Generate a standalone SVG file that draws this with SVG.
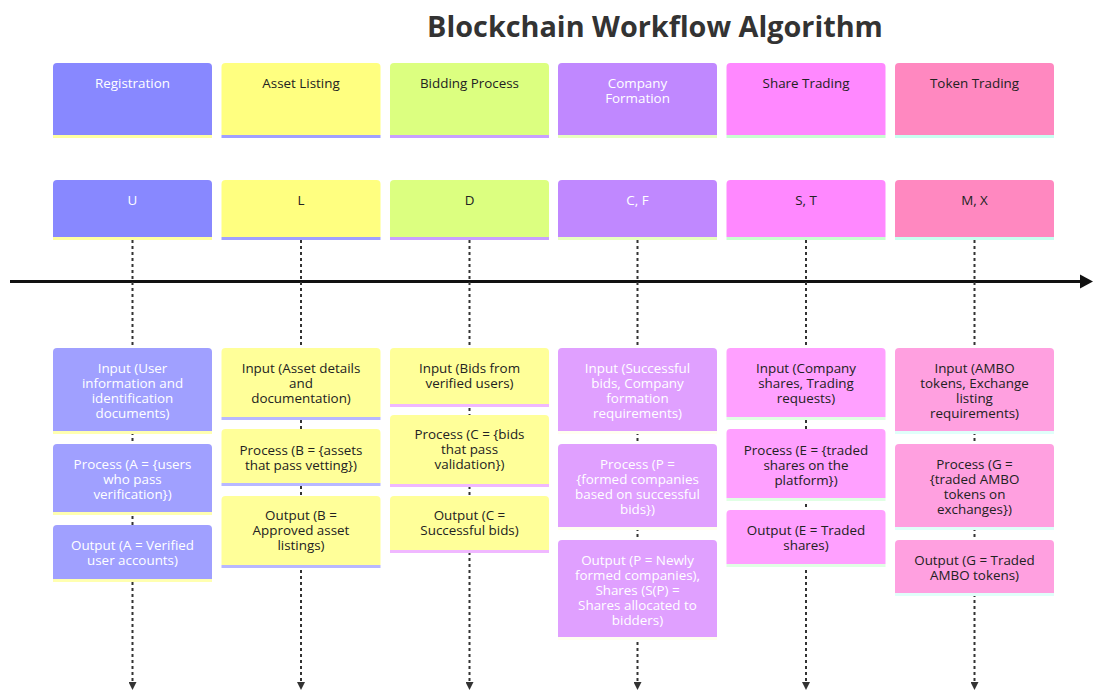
<svg xmlns="http://www.w3.org/2000/svg" width="1093" height="690" viewBox="0 0 1093 690">
  <defs>
    <style>
      text { font-family: "Open Sans", "Noto Sans", "Liberation Sans", sans-serif; font-size: 13.4px; text-anchor: middle; }
      .title { font-size: 28.8px; font-weight: 700; fill: #333333; }
      .light { fill: #ffffff; }
      .dark { fill: #222222; }
      .flow { stroke: #333333; stroke-width: 2; stroke-dasharray: 3 3; fill: none; }
      .axis { stroke: #111111; stroke-width: 3; fill: none; }
    </style>
    <marker id="down" markerUnits="userSpaceOnUse" markerWidth="8" markerHeight="8" refX="8" refY="4" orient="auto" viewBox="0 0 8 8">
      <path d="M0,0 L8,4 L0,8 Z" fill="#333333"/>
    </marker>
  </defs>

  <rect width="1093" height="690" fill="#ffffff"/>

  <text class="title" x="655" y="37">Blockchain Workflow Algorithm</text>

  <!-- connectors: timeline and column flows -->
  <g id="connectors">
    <line class="axis" x1="10" y1="281.5" x2="1081" y2="281.5"/>
    <path d="M1080,274.5 L1093,281.5 L1080,288.5 Z" fill="#111111"/>
    <line class="flow" x1="132.5" y1="240" x2="132.5" y2="690" marker-end="url(#down)"/>
    <line class="flow" x1="301" y1="240" x2="301" y2="690" marker-end="url(#down)"/>
    <line class="flow" x1="469.5" y1="240" x2="469.5" y2="690" marker-end="url(#down)"/>
    <line class="flow" x1="637.5" y1="240" x2="637.5" y2="690" marker-end="url(#down)"/>
    <line class="flow" x1="806" y1="240" x2="806" y2="690" marker-end="url(#down)"/>
    <line class="flow" x1="974.5" y1="240" x2="974.5" y2="690" marker-end="url(#down)"/>
  </g>

  <!-- Registration column -->
  <g id="registration-header">
    <path d="M53,135 V67 Q53,63 57,63 H208 Q212,63 212,67 V135 Z" fill="#8888ff"/>
    <rect x="53" y="135" width="159" height="3" fill="#ffffa0"/>
    <text class="light" x="132.5" y="88">Registration</text>
  </g>
  <g id="registration-symbol">
    <path d="M53,237 V184 Q53,180 57,180 H208 Q212,180 212,184 V237 Z" fill="#8888ff"/>
    <rect x="53" y="237" width="159" height="3" fill="#ffffa0"/>
    <text class="light" x="132.5" y="205">U</text>
  </g>
  <g id="registration-input">
    <path d="M53,431 V352 Q53,348 57,348 H208 Q212,348 212,352 V431 Z" fill="#a0a0ff"/>
    <rect x="53" y="431" width="159" height="3" fill="#ffffb0"/>
    <text class="light" y="372.5"><tspan x="132.5">Input (User</tspan><tspan x="132.5" dy="15">information and</tspan><tspan x="132.5" dy="15">identification</tspan><tspan x="132.5" dy="15">documents)</tspan></text>
  </g>
  <g id="registration-process">
    <path d="M53,512 V448 Q53,444 57,444 H208 Q212,444 212,448 V512 Z" fill="#a0a0ff"/>
    <rect x="53" y="512" width="159" height="3" fill="#ffffb0"/>
    <text class="light" y="468.5"><tspan x="132.5">Process (A = {users</tspan><tspan x="132.5" dy="15">who pass</tspan><tspan x="132.5" dy="15">verification})</tspan></text>
  </g>
  <g id="registration-output">
    <path d="M53,579 V529 Q53,525 57,525 H208 Q212,525 212,529 V579 Z" fill="#a0a0ff"/>
    <rect x="53" y="579" width="159" height="3" fill="#ffffb0"/>
    <text class="light" y="549.5"><tspan x="132.5">Output (A = Verified</tspan><tspan x="132.5" dy="15">user accounts)</tspan></text>
  </g>

  <!-- Asset Listing column -->
  <g id="asset-header">
    <path d="M221.5,135 V67 Q221.5,63 225.5,63 H376.5 Q380.5,63 380.5,67 V135 Z" fill="#ffff80"/>
    <rect x="221.5" y="135" width="159" height="3" fill="#a0a0ff"/>
    <text class="dark" x="301" y="88">Asset Listing</text>
  </g>
  <g id="asset-symbol">
    <path d="M221.5,237 V184 Q221.5,180 225.5,180 H376.5 Q380.5,180 380.5,184 V237 Z" fill="#ffff80"/>
    <rect x="221.5" y="237" width="159" height="3" fill="#a0a0ff"/>
    <text class="dark" x="301" y="205">L</text>
  </g>
  <g id="asset-input">
    <path d="M221.5,417 V352 Q221.5,348 225.5,348 H376.5 Q380.5,348 380.5,352 V417 Z" fill="#ffff99"/>
    <rect x="221.5" y="417" width="159" height="3" fill="#b8b8ff"/>
    <text class="dark" y="372.5"><tspan x="301">Input (Asset details</tspan><tspan x="301" dy="15">and</tspan><tspan x="301" dy="15">documentation)</tspan></text>
  </g>
  <g id="asset-process">
    <path d="M221.5,483 V433 Q221.5,429 225.5,429 H376.5 Q380.5,429 380.5,433 V483 Z" fill="#ffff99"/>
    <rect x="221.5" y="483" width="159" height="3" fill="#b8b8ff"/>
    <text class="dark" y="454.5"><tspan x="301">Process (B = {assets</tspan><tspan x="301" dy="15">that pass vetting})</tspan></text>
  </g>
  <g id="asset-output">
    <path d="M221.5,565 V500 Q221.5,496 225.5,496 H376.5 Q380.5,496 380.5,500 V565 Z" fill="#ffff99"/>
    <rect x="221.5" y="565" width="159" height="3" fill="#b8b8ff"/>
    <text class="dark" y="519.5"><tspan x="301">Output (B =</tspan><tspan x="301" dy="15">Approved asset</tspan><tspan x="301" dy="15">listings)</tspan></text>
  </g>

  <!-- Bidding Process column -->
  <g id="bidding-header">
    <path d="M390,135 V67 Q390,63 394,63 H545 Q549,63 549,67 V135 Z" fill="#dcff80"/>
    <rect x="390" y="135" width="159" height="3" fill="#c8a0ff"/>
    <text class="dark" x="469.5" y="88">Bidding Process</text>
  </g>
  <g id="bidding-symbol">
    <path d="M390,237 V184 Q390,180 394,180 H545 Q549,180 549,184 V237 Z" fill="#dcff80"/>
    <rect x="390" y="237" width="159" height="3" fill="#c8a0ff"/>
    <text class="dark" x="469.5" y="205">D</text>
  </g>
  <g id="bidding-input">
    <path d="M390,404 V352 Q390,348 394,348 H545 Q549,348 549,352 V404 Z" fill="#ffff99"/>
    <rect x="390" y="404" width="159" height="3" fill="#f0b8ff"/>
    <text class="dark" y="372.5"><tspan x="469.5">Input (Bids from</tspan><tspan x="469.5" dy="15">verified users)</tspan></text>
  </g>
  <g id="bidding-process">
    <path d="M390,484 V419 Q390,415 394,415 H545 Q549,415 549,419 V484 Z" fill="#ffff99"/>
    <rect x="390" y="484" width="159" height="3" fill="#f0b8ff"/>
    <text class="dark" y="438.5"><tspan x="469.5">Process (C = {bids</tspan><tspan x="469.5" dy="15">that pass</tspan><tspan x="469.5" dy="15">validation})</tspan></text>
  </g>
  <g id="bidding-output">
    <path d="M390,550 V500 Q390,496 394,496 H545 Q549,496 549,500 V550 Z" fill="#ffff99"/>
    <rect x="390" y="550" width="159" height="3" fill="#f0b8ff"/>
    <text class="dark" y="519.5"><tspan x="469.5">Output (C =</tspan><tspan x="469.5" dy="15">Successful bids)</tspan></text>
  </g>

  <!-- Company Formation column -->
  <g id="company-header">
    <path d="M558,135 V67 Q558,63 562,63 H713 Q717,63 717,67 V135 Z" fill="#c088ff"/>
    <rect x="558" y="135" width="159" height="3" fill="#e8ffc0"/>
    <text class="light" y="88"><tspan x="637.5">Company</tspan><tspan x="637.5" dy="15">Formation</tspan></text>
  </g>
  <g id="company-symbol">
    <path d="M558,237 V184 Q558,180 562,180 H713 Q717,180 717,184 V237 Z" fill="#c088ff"/>
    <rect x="558" y="237" width="159" height="3" fill="#e8ffc0"/>
    <text class="light" x="637.5" y="205">C, F</text>
  </g>
  <g id="company-input">
    <path d="M558,431 V352 Q558,348 562,348 H713 Q717,348 717,352 V431 Z" fill="#e0a0ff"/>
    <rect x="558" y="431" width="159" height="3" fill="#fffff0"/>
    <text class="light" y="372.5"><tspan x="637.5">Input (Successful</tspan><tspan x="637.5" dy="15">bids, Company</tspan><tspan x="637.5" dy="15">formation</tspan><tspan x="637.5" dy="15">requirements)</tspan></text>
  </g>
  <g id="company-process">
    <path d="M558,527 V448 Q558,444 562,444 H713 Q717,444 717,448 V527 Z" fill="#e0a0ff"/>
    <rect x="558" y="527" width="159" height="3" fill="#fffff0"/>
    <text class="light" y="468.5"><tspan x="637.5">Process (P =</tspan><tspan x="637.5" dy="15">{formed companies</tspan><tspan x="637.5" dy="15">based on successful</tspan><tspan x="637.5" dy="15">bids})</tspan></text>
  </g>
  <g id="company-output">
    <path d="M558,637 V544 Q558,540 562,540 H713 Q717,540 717,544 V637 Z" fill="#e0a0ff"/>
    <rect x="558" y="637" width="159" height="3" fill="#fffff0"/>
    <text class="light" y="564.5"><tspan x="637.5">Output (P = Newly</tspan><tspan x="637.5" dy="15">formed companies),</tspan><tspan x="637.5" dy="15">Shares (S(P) =</tspan><tspan x="637.5" dy="15">Shares allocated to</tspan><tspan x="637.5" dy="15">bidders)</tspan></text>
  </g>

  <!-- Share Trading column -->
  <g id="share-header">
    <path d="M726.5,135 V67 Q726.5,63 730.5,63 H881.5 Q885.5,63 885.5,67 V135 Z" fill="#ff88ff"/>
    <rect x="726.5" y="135" width="159" height="3" fill="#c8ffd0"/>
    <text class="dark" x="806" y="88">Share Trading</text>
  </g>
  <g id="share-symbol">
    <path d="M726.5,237 V184 Q726.5,180 730.5,180 H881.5 Q885.5,180 885.5,184 V237 Z" fill="#ff88ff"/>
    <rect x="726.5" y="237" width="159" height="3" fill="#c8ffd0"/>
    <text class="dark" x="806" y="205">S, T</text>
  </g>
  <g id="share-input">
    <path d="M726.5,417 V352 Q726.5,348 730.5,348 H881.5 Q885.5,348 885.5,352 V417 Z" fill="#ffa0ff"/>
    <rect x="726.5" y="417" width="159" height="3" fill="#e0ffe4"/>
    <text class="dark" y="372.5"><tspan x="806">Input (Company</tspan><tspan x="806" dy="15">shares, Trading</tspan><tspan x="806" dy="15">requests)</tspan></text>
  </g>
  <g id="share-process">
    <path d="M726.5,498 V433 Q726.5,429 730.5,429 H881.5 Q885.5,429 885.5,433 V498 Z" fill="#ffa0ff"/>
    <rect x="726.5" y="498" width="159" height="3" fill="#e0ffe4"/>
    <text class="dark" y="454.5"><tspan x="806">Process (E = {traded</tspan><tspan x="806" dy="15">shares on the</tspan><tspan x="806" dy="15">platform})</tspan></text>
  </g>
  <g id="share-output">
    <path d="M726.5,564 V514 Q726.5,510 730.5,510 H881.5 Q885.5,510 885.5,514 V564 Z" fill="#ffa0ff"/>
    <rect x="726.5" y="564" width="159" height="3" fill="#e0ffe4"/>
    <text class="dark" y="534.5"><tspan x="806">Output (E = Traded</tspan><tspan x="806" dy="15">shares)</tspan></text>
  </g>

  <!-- Token Trading column -->
  <g id="token-header">
    <path d="M895,135 V67 Q895,63 899,63 H1050 Q1054,63 1054,67 V135 Z" fill="#ff88c0"/>
    <rect x="895" y="135" width="159" height="3" fill="#c8fff0"/>
    <text class="dark" x="974.5" y="88">Token Trading</text>
  </g>
  <g id="token-symbol">
    <path d="M895,237 V184 Q895,180 899,180 H1050 Q1054,180 1054,184 V237 Z" fill="#ff88c0"/>
    <rect x="895" y="237" width="159" height="3" fill="#c8fff0"/>
    <text class="dark" x="974.5" y="205">M, X</text>
  </g>
  <g id="token-input">
    <path d="M895,431 V352 Q895,348 899,348 H1050 Q1054,348 1054,352 V431 Z" fill="#ffa0e0"/>
    <rect x="895" y="431" width="159" height="3" fill="#e0fffa"/>
    <text class="dark" y="372.5"><tspan x="974.5">Input (AMBO</tspan><tspan x="974.5" dy="15">tokens, Exchange</tspan><tspan x="974.5" dy="15">listing</tspan><tspan x="974.5" dy="15">requirements)</tspan></text>
  </g>
  <g id="token-process">
    <path d="M895,527 V448 Q895,444 899,444 H1050 Q1054,444 1054,448 V527 Z" fill="#ffa0e0"/>
    <rect x="895" y="527" width="159" height="3" fill="#e0fffa"/>
    <text class="dark" y="468.5"><tspan x="974.5">Process (G =</tspan><tspan x="974.5" dy="15">{traded AMBO</tspan><tspan x="974.5" dy="15">tokens on</tspan><tspan x="974.5" dy="15">exchanges})</tspan></text>
  </g>
  <g id="token-output">
    <path d="M895,593 V544 Q895,540 899,540 H1050 Q1054,540 1054,544 V593 Z" fill="#ffa0e0"/>
    <rect x="895" y="593" width="159" height="3" fill="#e0fffa"/>
    <text class="dark" y="564.5"><tspan x="974.5">Output (G = Traded</tspan><tspan x="974.5" dy="15">AMBO tokens)</tspan></text>
  </g>
</svg>
